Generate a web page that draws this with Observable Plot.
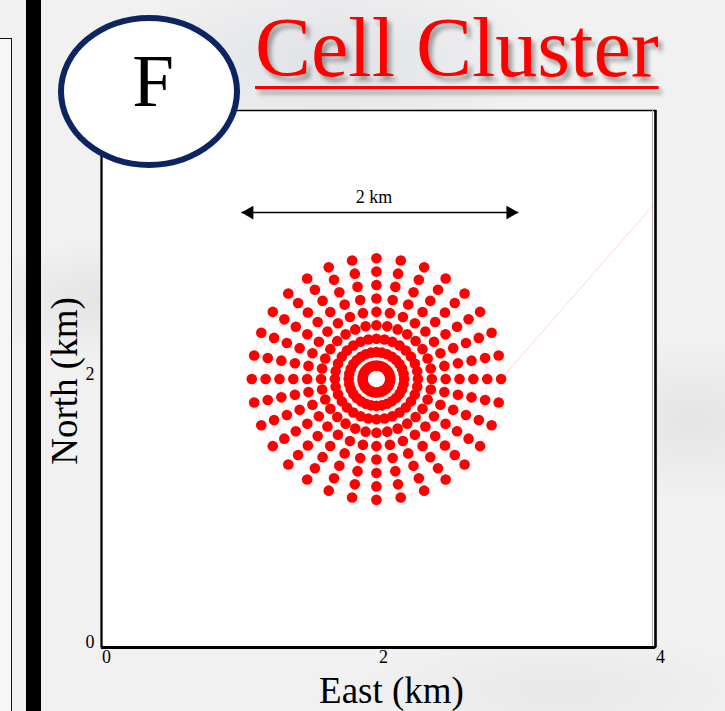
<!DOCTYPE html>
<html>
<head>
<meta charset="utf-8">
<script src="https://cdn.jsdelivr.net/npm/d3@7"></script>
<script src="https://cdn.jsdelivr.net/npm/@observablehq/plot@0.6"></script>
<style>
  html, body { margin: 0; padding: 0; }
  body {
    width: 725px; height: 711px; position: relative; overflow: hidden;
    font-family: "Liberation Serif", "Times New Roman", serif;
    background:
      radial-gradient(ellipse 220px 90px at 330px 60px, rgba(190,196,206,0.35), rgba(0,0,0,0)),
      radial-gradient(ellipse 160px 60px at 120px 300px, rgba(200,200,200,0.35), rgba(0,0,0,0)),
      radial-gradient(ellipse 140px 80px at 690px 420px, rgba(205,205,210,0.35), rgba(0,0,0,0)),
      radial-gradient(ellipse 200px 60px at 560px 690px, rgba(210,210,210,0.3), rgba(0,0,0,0)),
      #f1f1f1;
  }
  .side-box { position: absolute; left: -2px; top: 38px; width: 12px; height: 700px;
              border: 1px solid #111; background: #f6f6f6; }
  .side-bar { position: absolute; left: 26px; top: 0; width: 15px; height: 711px; background: #000; }
  #chart { position: absolute; left: 40px; top: 60px; }
  .badge { position: absolute; left: 58px; top: 15px; width: 182px; height: 153px; box-sizing: border-box;
           border: 6px solid #0c2461; border-radius: 50%; background: #fff; }
  .badge span { position: absolute; left: 0; width: 178px; top: 22px; text-align: center;
                font-size: 75px; line-height: 1; color: #000; }
  .title { position: absolute; left: 255px; top: 6px; font-size: 84px; line-height: 1; color: #ff0000;
           white-space: nowrap; text-shadow: 4px 5px 4px rgba(0,0,0,0.35);
           text-decoration: underline; text-decoration-color: #ff0000;
           text-decoration-thickness: 3px; text-underline-offset: 10px; }
</style>
</head>
<body>
<div class="side-box"></div>
<div class="side-bar"></div>
<div id="chart"></div>
<div class="badge"><span>F</span></div>
<div class="title">Cell Cluster</div>
<script>
// Cluster centre (km East, km North)
const clusterCenter = { east: 1.985, north: 2.0 };
// Ring radii of the cell layout (km)
const ringRadiiKm = [0.1, 0.2, 0.3, 0.4, 0.5, 0.6, 0.7, 0.8, 0.9];
// Bearings of the cell spokes (degrees clockwise from North)
const spokeBearingsDeg = [
  0, 11.25, 22.5, 33.75, 45, 56.25, 67.5, 78.75,
  90, 101.25, 112.5, 123.75, 135, 146.25, 157.5, 168.75,
  180, 191.25, 202.5, 213.75, 225, 236.25, 247.5, 258.75,
  270, 281.25, 292.5, 303.75, 315, 326.25, 337.5, 348.75
];
// Axis ticks
const xTicks = [0, 2, 4];
const yTicks = [0, 2];
const xLabel = "East (km)";
const yLabel = "North (km)";
// Scale bar
const scaleBarKm = 2;
const scaleBarCenterEast = 2.01;
const scaleBarNorth = 3.24;
const scaleBarText = "2 km";
// Faint link leaving the cluster toward the upper right
const linkLine = [
  { east: 2.885, north: 2.0 },
  { east: 3.98, north: 3.29 }
];

// Cell positions: every ring crossed with every spoke
const cells = [];
ringRadiiKm.forEach((r, ri) => {
  spokeBearingsDeg.forEach((b, si) => {
    const a = b * Math.PI / 180;
    cells.push({
      ring: ri, spoke: si, radius: r,
      east: clusterCenter.east + r * Math.sin(a),
      north: clusterCenter.north + r * Math.cos(a)
    });
  });
});
const bySpoke = d3.sort(cells, d => d.spoke, d => d.ring);

const scaleBar = [{
  x1: scaleBarCenterEast - scaleBarKm / 2,
  x2: scaleBarCenterEast + scaleBarKm / 2,
  y: scaleBarNorth
}];

const serif = "Liberation Serif, Times New Roman, serif";

const chart = Plot.plot({
  width: 635,
  height: 651,
  marginLeft: 61,
  marginRight: 20,
  marginTop: 50,
  marginBottom: 64,
  style: { background: "transparent", fontFamily: serif, fontSize: "18px", overflow: "visible", color: "#000" },
  x: { domain: [0, 4] },
  y: { domain: [0, 4] },
  marks: [
    Plot.frame({ fill: "white", stroke: null }),
    // faint mesh linking the cells
    Plot.line(cells, { x: "east", y: "north", z: "ring", curve: "linear-closed",
                       stroke: "#ffdede", strokeWidth: 0.8 }),
    Plot.line(bySpoke, { x: "east", y: "north", z: "spoke", stroke: "#ffe4e4", strokeWidth: 0.8 }),
    Plot.line(linkLine, { x: "east", y: "north", stroke: "#ffd6d6", strokeWidth: 1 }),
    // cells
    Plot.dot(cells, { x: "east", y: "north", r: 5.3, fill: "#ff0000", stroke: null }),
    // scale bar with a filled head at each end (tips on the bar ends)
    Plot.link(scaleBar, { x1: "x1", x2: "x2", y1: "y", y2: "y", stroke: "#000", strokeWidth: 1.5 }),
    Plot.dot(scaleBar, { x: "x1", y: "y", symbol: "triangle", rotate: -90, dx: 8,
                         r: 5.1, fill: "#000", stroke: null }),
    Plot.dot(scaleBar, { x: "x2", y: "y", symbol: "triangle", rotate: 90, dx: -8,
                         r: 5.1, fill: "#000", stroke: null }),
    Plot.text([scaleBarText], { x: scaleBarCenterEast, y: scaleBarNorth, dy: -15, dx: -6,
                                fontSize: 18, fill: "#000", fontFamily: serif }),
    // frame
    Plot.frame({ stroke: "#000", strokeWidth: 1.5 }),
    Plot.ruleX([4], { stroke: "#000", strokeWidth: 2.5 }),
    Plot.ruleX([4], { stroke: "#aaa", strokeWidth: 1, dx: -3 }),
    Plot.ruleX([0], { stroke: "#000", strokeWidth: 2 }),
    Plot.ruleY([0], { stroke: "#000", strokeWidth: 3 }),
    // axes
    Plot.axisX({ ticks: xTicks, tickSize: 0, tickPadding: 3, dx: 5, fontSize: 18,
                 fontFamily: serif, label: null, tickFormat: d => String(d) }),
    Plot.axisY({ ticks: yTicks, tickSize: 0, tickPadding: 7, dy: -5, fontSize: 18,
                 fontFamily: serif, label: null, tickFormat: d => String(d) }),
    Plot.text([xLabel], { frameAnchor: "bottom", lineAnchor: "middle", textAnchor: "middle",
                          dy: 44, dx: 13, fontSize: 37, fill: "#000", fontFamily: serif }),
    Plot.text([yLabel], { frameAnchor: "left", lineAnchor: "middle", textAnchor: "middle",
                          dx: -36, dy: 2, rotate: -90, fontSize: 37, fill: "#000", fontFamily: serif })
  ]
});

document.getElementById("chart").appendChild(chart);
</script>
</body>
</html>
